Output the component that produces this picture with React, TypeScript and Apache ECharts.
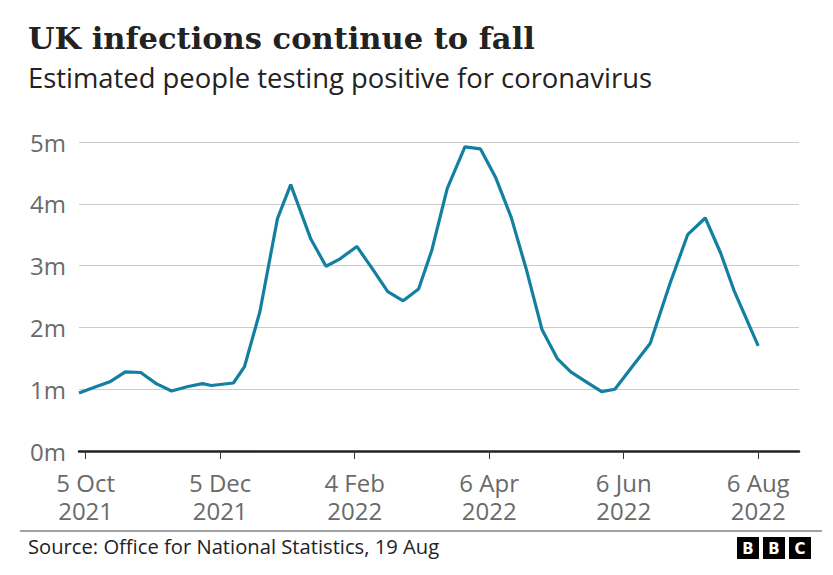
import React, { useEffect, useRef } from "react";
import * as echarts from "echarts";

const dates = [
  "2021-10-02", "2021-10-09", "2021-10-16", "2021-10-23", "2021-10-30",
  "2021-11-06", "2021-11-13", "2021-11-20", "2021-11-27", "2021-12-01",
  "2021-12-11", "2021-12-16", "2021-12-23", "2021-12-31", "2022-01-06",
  "2022-01-15", "2022-01-22", "2022-01-28", "2022-02-05", "2022-02-12",
  "2022-02-19", "2022-02-26", "2022-03-05", "2022-03-11", "2022-03-18",
  "2022-03-26", "2022-04-02", "2022-04-09", "2022-04-16", "2022-04-23",
  "2022-04-30", "2022-05-07", "2022-05-13", "2022-05-20", "2022-05-27",
  "2022-06-02", "2022-06-10", "2022-06-18", "2022-06-27", "2022-07-05",
  "2022-07-13", "2022-07-20", "2022-07-26", "2022-08-06",
];

// Estimated people testing positive, millions
const positives = [
  0.94, 1.03, 1.12, 1.28, 1.27,
  1.09, 0.97, 1.04, 1.09, 1.06,
  1.10, 1.36, 2.25, 3.76, 4.31,
  3.44, 2.99, 3.10, 3.31, 2.95,
  2.58, 2.43, 2.62, 3.25, 4.25,
  4.92, 4.89, 4.42, 3.78, 2.92,
  1.96, 1.49, 1.28, 1.12, 0.96,
  1.00, 1.37, 1.74, 2.71, 3.50,
  3.77, 3.20, 2.60, 1.70,
];

const tickDates = ["2021-10-05", "2021-12-05", "2022-02-04", "2022-04-06", "2022-06-06", "2022-08-06"];
const tickLabels = ["5 Oct\n2021", "5 Dec\n2021", "4 Feb\n2022", "6 Apr\n2022", "6 Jun\n2022", "6 Aug\n2022"];
const yTicks = [0, 1, 2, 3, 4, 5];

const ORIGIN = Date.UTC(2021, 9, 5);
function dayOf(s: string): number {
  const [y, m, d] = s.split("-").map(Number);
  return (Date.UTC(y, m - 1, d) - ORIGIN) / 86400000;
}

const SANS = "'Open Sans', 'Noto Sans', sans-serif";

export default function App() {
  const ref = useRef<HTMLDivElement>(null);
  useEffect(() => {
    document.body.style.margin = "0";
    if (!ref.current) return;
    const chart = echarts.init(ref.current, null, { renderer: "svg" });
    const tickVals = tickDates.map(dayOf);
    const seriesData = dates.map((d, i) => [dayOf(d), positives[i]]);
    chart.setOption({
      animation: false,
      backgroundColor: "#ffffff",
      grid: { left: 79, right: 34, top: 142, bottom: 124, containLabel: false },
      xAxis: {
        type: "value",
        min: -3,
        max: 323.5,
        axisLine: { show: true, onZero: false, lineStyle: { color: "#222222", width: 2.5 } },
        axisTick: {
          show: true,
          customValues: tickVals,
          length: 8,
          lineStyle: { color: "#333333", width: 1 },
        },
        axisLabel: {
          customValues: tickVals,
          formatter: (v: number) => {
            const idx = tickVals.findIndex((t) => Math.abs(t - v) < 0.01);
            return idx >= 0 ? tickLabels[idx] : "";
          },
          fontFamily: SANS,
          fontSize: 24,
          lineHeight: 28,
          color: "#6a6a6a",
          margin: 17,
        },
        splitLine: { show: false },
      },
      yAxis: {
        type: "value",
        min: yTicks[0],
        max: yTicks[yTicks.length - 1],
        interval: 1,
        axisLine: { show: false },
        axisTick: { show: false },
        axisLabel: {
          formatter: (v: number) => `${v}m`,
          fontFamily: SANS,
          fontSize: 24,
          color: "#6a6a6a",
          margin: 13,
        },
        splitLine: { show: true, lineStyle: { color: "#cccccc", width: 1 } },
      },
      series: [
        {
          type: "line",
          data: seriesData,
          showSymbol: false,
          symbol: "none",
          lineStyle: { color: "#1380a1", width: 3.2 },
          z: 3,
        },
      ],
      graphic: [
        {
          type: "text",
          left: 28,
          top: 22,
          style: {
            text: "UK infections continue to fall",
            font: "bold 30.5px 'DejaVu Serif', serif",
            fill: "#222222",
          },
        },
        {
          type: "text",
          left: 28,
          top: 64,
          style: {
            text: "Estimated people testing positive for coronavirus",
            fontFamily: SANS,
            fontSize: 27.4,
            fill: "#222222",
          },
        },
        {
          type: "line",
          shape: { x1: 20, y1: 531, x2: 822, y2: 531 },
          style: { stroke: "#444444", lineWidth: 1 },
        },
        {
          type: "text",
          left: 28,
          top: 536,
          style: {
            text: "Source: Office for National Statistics, 19 Aug",
            fontFamily: SANS,
            fontSize: 20.2,
            fill: "#222222",
          },
        },
        ...["B", "B", "C"].flatMap((ch, i) => [
          {
            type: "rect",
            shape: { x: 737 + i * 26, y: 537, width: 22, height: 22 },
            style: { fill: "#000000" },
          },
          {
            type: "text",
            x: 737 + i * 26 + 11,
            y: 548.5,
            style: {
              text: ch,
              fontFamily: "'DejaVu Sans', sans-serif",
              fontWeight: "bold",
              fontSize: 15,
              fill: "#ffffff",
              align: "center",
              verticalAlign: "middle",
            },
          },
        ]),
      ],
    });
    return () => chart.dispose();
  }, []);
  return <div ref={ref} style={{ width: 833, height: 575 }} />;
}
